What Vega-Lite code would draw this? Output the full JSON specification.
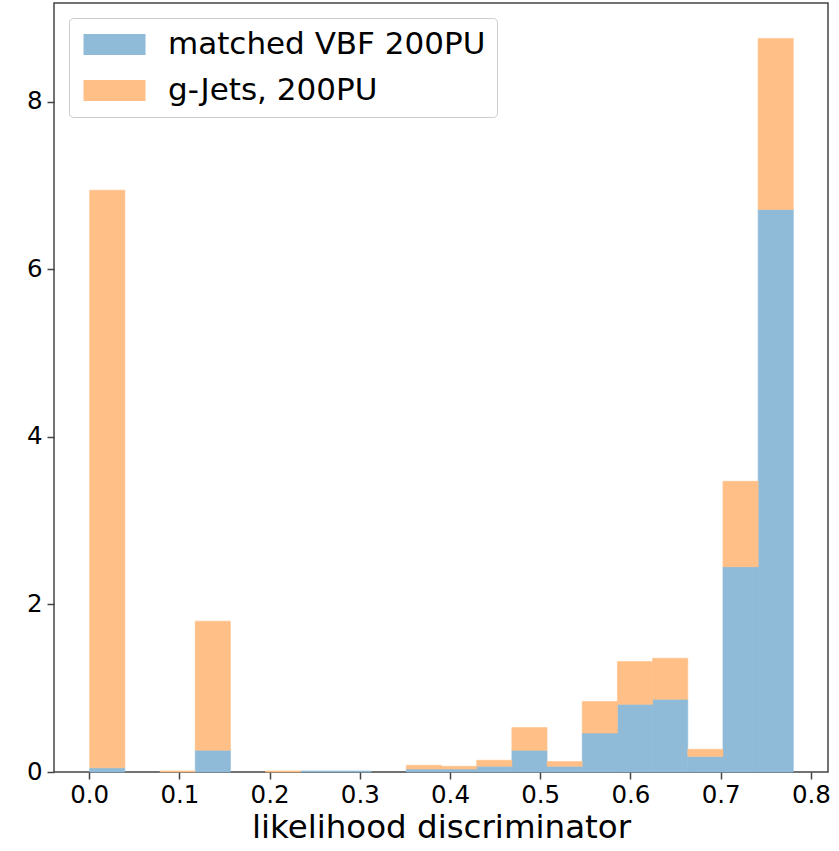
{
  "$schema": "https://vega.github.io/schema/vega-lite/v6.json",
  "width": 774,
  "height": 769,
  "autosize": "none",
  "padding": {"left": 54, "top": 3, "right": 11, "bottom": 79},
  "background": "white",
  "config": {
    "font": "DejaVu Sans",
    "view": {"stroke": "#444444", "strokeWidth": 1.5},
    "axis": {
      "domain": false,
      "grid": false,
      "ticks": true,
      "tickColor": "#444444",
      "tickWidth": 1.5,
      "tickSize": 7,
      "labelFont": "DejaVu Sans",
      "labelFontSize": 24.5,
      "labelColor": "#000000",
      "titleFont": "DejaVu Sans",
      "titleFontWeight": "normal",
      "titleColor": "#000000"
    }
  },
  "data": {
    "values": [
      {"x0": 0.0, "x1": 0.039, "series": "matched VBF 200PU", "v": 0.05},
      {"x0": 0.117, "x1": 0.156, "series": "matched VBF 200PU", "v": 0.26},
      {"x0": 0.234, "x1": 0.273, "series": "matched VBF 200PU", "v": 0.012},
      {"x0": 0.273, "x1": 0.312, "series": "matched VBF 200PU", "v": 0.012},
      {"x0": 0.351, "x1": 0.39, "series": "matched VBF 200PU", "v": 0.036},
      {"x0": 0.39, "x1": 0.429, "series": "matched VBF 200PU", "v": 0.036},
      {"x0": 0.429, "x1": 0.468, "series": "matched VBF 200PU", "v": 0.068},
      {"x0": 0.468, "x1": 0.507, "series": "matched VBF 200PU", "v": 0.259},
      {"x0": 0.507, "x1": 0.546, "series": "matched VBF 200PU", "v": 0.068},
      {"x0": 0.546, "x1": 0.585, "series": "matched VBF 200PU", "v": 0.466},
      {"x0": 0.585, "x1": 0.624, "series": "matched VBF 200PU", "v": 0.808},
      {"x0": 0.624, "x1": 0.663, "series": "matched VBF 200PU", "v": 0.868},
      {"x0": 0.663, "x1": 0.702, "series": "matched VBF 200PU", "v": 0.184},
      {"x0": 0.702, "x1": 0.741, "series": "matched VBF 200PU", "v": 2.45},
      {"x0": 0.741, "x1": 0.78, "series": "matched VBF 200PU", "v": 6.715},
      {"x0": 0.0, "x1": 0.039, "series": "g-Jets, 200PU", "v": 6.896},
      {"x0": 0.078, "x1": 0.117, "series": "g-Jets, 200PU", "v": 0.012},
      {"x0": 0.117, "x1": 0.156, "series": "g-Jets, 200PU", "v": 1.54},
      {"x0": 0.195, "x1": 0.234, "series": "g-Jets, 200PU", "v": 0.012},
      {"x0": 0.351, "x1": 0.39, "series": "g-Jets, 200PU", "v": 0.044},
      {"x0": 0.39, "x1": 0.429, "series": "g-Jets, 200PU", "v": 0.032},
      {"x0": 0.429, "x1": 0.468, "series": "g-Jets, 200PU", "v": 0.072},
      {"x0": 0.468, "x1": 0.507, "series": "g-Jets, 200PU", "v": 0.271},
      {"x0": 0.507, "x1": 0.546, "series": "g-Jets, 200PU", "v": 0.056},
      {"x0": 0.546, "x1": 0.585, "series": "g-Jets, 200PU", "v": 0.375},
      {"x0": 0.585, "x1": 0.624, "series": "g-Jets, 200PU", "v": 0.51},
      {"x0": 0.624, "x1": 0.663, "series": "g-Jets, 200PU", "v": 0.49},
      {"x0": 0.663, "x1": 0.702, "series": "g-Jets, 200PU", "v": 0.087},
      {"x0": 0.702, "x1": 0.741, "series": "g-Jets, 200PU", "v": 1.02},
      {"x0": 0.741, "x1": 0.78, "series": "g-Jets, 200PU", "v": 2.042}
    ]
  },
  "mark": {"type": "bar", "binSpacing": 0, "opacity": 1, "strokeWidth": 0.6},
  "encoding": {
    "x": {
      "field": "x0",
      "type": "quantitative",
      "bin": {"binned": true, "step": 0.039},
      "scale": {"domain": [-0.039, 0.819], "nice": false, "zero": false},
      "axis": {
        "values": [0, 0.1, 0.2, 0.3, 0.4, 0.5, 0.6, 0.7, 0.8],
        "format": ".1f",
        "labelPadding": 4,
        "title": "likelihood discriminator",
        "titleFontSize": 32.5,
        "titlePadding": 5
      }
    },
    "x2": {"field": "x1"},
    "y": {
      "field": "v",
      "type": "quantitative",
      "stack": "zero",
      "scale": {"domain": [0, 9.18], "nice": false},
      "axis": {
        "values": [0, 2, 4, 6, 8],
        "format": "d",
        "labelPadding": 5,
        "title": null
      }
    },
    "color": {
      "field": "series",
      "type": "nominal",
      "scale": {
        "domain": ["matched VBF 200PU", "g-Jets, 200PU"],
        "range": ["#8fbbd9", "#ffbf87"]
      },
      "legend": {
        "title": null,
        "orient": "top-left",
        "offset": 15,
        "padding": 11,
        "fillColor": "white",
        "strokeColor": "#cccccc",
        "cornerRadius": 4,
        "symbolType": "M-1,-0.875H4.1667V0.875H-1Z",
        "symbolSize": 576,
        "symbolStrokeWidth": 0,
        "symbolOpacity": 1,
        "labelFontSize": 31,
        "labelColor": "#000000",
        "labelOffset": 57,
        "labelLimit": 1000,
        "rowPadding": 14
      }
    },
    "stroke": {
      "field": "series",
      "type": "nominal",
      "scale": {
        "domain": ["matched VBF 200PU", "g-Jets, 200PU"],
        "range": ["#8fbbd9", "#ffbf87"]
      },
      "legend": {
        "title": null,
        "orient": "top-left",
        "offset": 15,
        "padding": 11,
        "fillColor": "white",
        "strokeColor": "#cccccc",
        "cornerRadius": 4,
        "symbolType": "M-1,-0.875H4.1667V0.875H-1Z",
        "symbolSize": 576,
        "symbolStrokeWidth": 0,
        "symbolOpacity": 1,
        "labelFontSize": 31,
        "labelColor": "#000000",
        "labelOffset": 57,
        "labelLimit": 1000,
        "rowPadding": 14
      }
    },
    "order": {"field": "series", "sort": "descending"}
  }
}
